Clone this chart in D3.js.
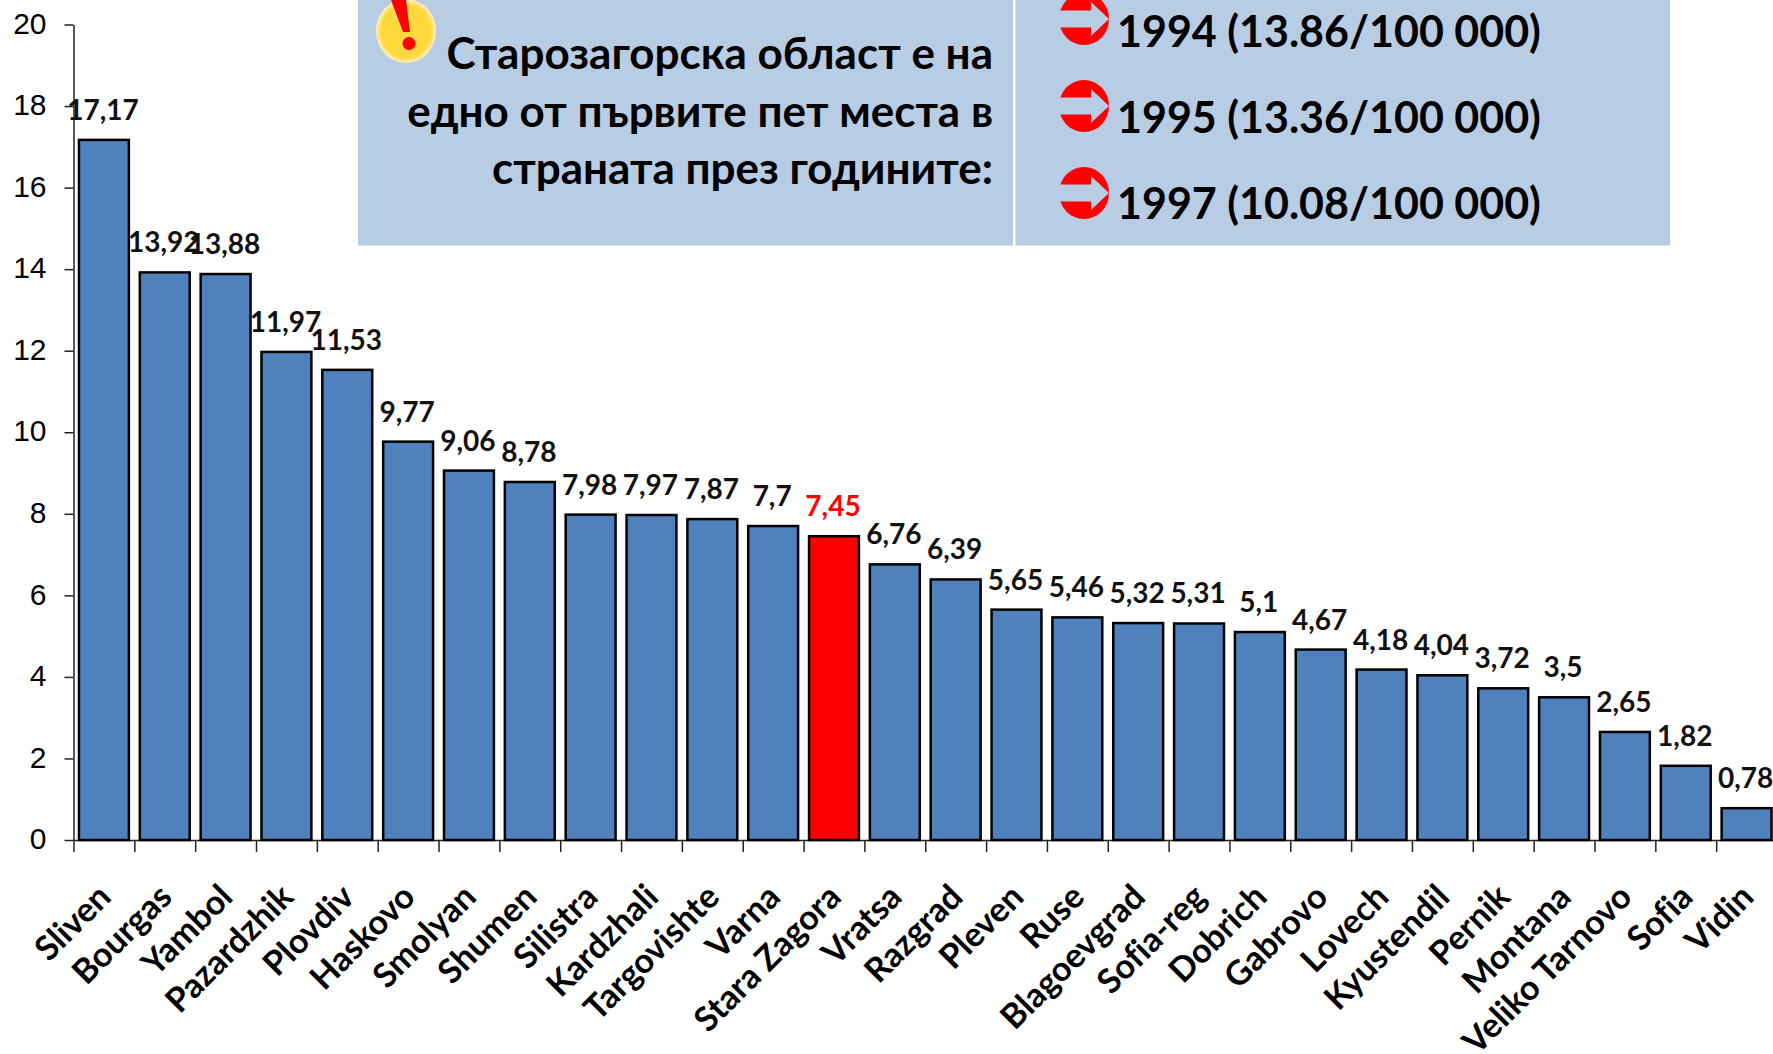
<!DOCTYPE html>
<html>
<head>
<meta charset="utf-8">
<script src="https://cdn.jsdelivr.net/npm/d3@7/dist/d3.min.js"></script>
<style>
  html, body { margin: 0; padding: 0; background: #fff; overflow: hidden; }
  svg { display: block; }
  text { font-variant-ligatures: none; }
  .domain, .tick line { stroke: #222; stroke-width: 1.5; }
  .ytick text { font-family: "Liberation Sans", Arial, sans-serif; font-size: 30px; fill: #000; }
  .lbl { font-family: Lato, "Open Sans", sans-serif; font-size: 28px; font-weight: 700; fill: #111; text-anchor: middle; }
  .cat { font-family: Lato, "Open Sans", sans-serif; font-size: 34px; font-weight: 700; fill: #000; text-anchor: end; }
  .note { font-family: Lato, "Noto Sans", sans-serif; font-size: 44px; font-weight: 700; fill: #000; }
  .year { font-family: Lato, "Noto Sans", sans-serif; font-size: 43px; font-weight: 700; fill: #000; }
</style>
</head>
<body>
<script>
"use strict";

const categories = ["Sliven", "Bourgas", "Yambol", "Pazardzhik", "Plovdiv", "Haskovo", "Smolyan", "Shumen",
    "Silistra", "Kardzhali", "Targovishte", "Varna", "Stara Zagora", "Vratsa", "Razgrad", "Pleven", "Ruse",
    "Blagoevgrad", "Sofia-reg", "Dobrich", "Gabrovo", "Lovech", "Kyustendil", "Pernik", "Montana",
    "Veliko Tarnovo", "Sofia", "Vidin"];
const values = [17.17, 13.92, 13.88, 11.97, 11.53, 9.77, 9.06, 8.78, 7.98, 7.97, 7.87, 7.7, 7.45, 6.76, 6.39,
    5.65, 5.46, 5.32, 5.31, 5.1, 4.67, 4.18, 4.04, 3.72, 3.5, 2.65, 1.82, 0.78];
const highlight = "Stara Zagora";
const yTicks = [0, 2, 4, 6, 8, 10, 12, 14, 16, 18, 20];
const noteLines = ["Старозагорска област е на", "едно от първите пет места в", "страната през годините:"];
const yearLines = ["1994 (13.86/100 000)", "1995 (13.36/100 000)", "1997 (10.08/100 000)"];

const width = 1773, height = 1054;
const x0 = 73.5, x1 = 1777, yTop = 24.5, yBase = 840;
const panelColor = "#b8cce4";

const svg = d3.select("body").append("svg")
    .attr("width", width)
    .attr("height", height);

const x = d3.scaleBand().domain(categories).range([x0, x1]).paddingInner(0.18).paddingOuter(0.09);
const y = d3.scaleLinear().domain([0, 20]).range([yBase, yTop]);
const xEdges = d3.scaleLinear().domain([0, categories.length]).range([x0, x1]);

// note panel
svg.append("rect").attr("x", 358).attr("y", 0).attr("width", 1312).attr("height", 245.5).attr("fill", panelColor);
svg.append("rect").attr("x", 1013).attr("y", 0).attr("width", 2.5).attr("height", 245.5).attr("fill", "#fff");

// axes
svg.append("g")
    .attr("class", "ytick")
    .attr("transform", "translate(" + x0 + ",0)")
    .call(d3.axisLeft(y).tickValues(yTicks).tickSize(9).tickSizeOuter(0).tickPadding(18))
    .selectAll("text").attr("dy", "0.29em");

svg.append("g")
    .attr("transform", "translate(0," + yBase + ")")
    .call(d3.axisBottom(xEdges).tickValues(d3.range(categories.length)).tickSize(12).tickSizeOuter(0).tickFormat(""));

// bars
svg.selectAll("rect.bar")
    .data(categories)
    .enter().append("rect")
    .attr("class", "bar")
    .attr("x", d => x(d))
    .attr("width", x.bandwidth())
    .attr("y", (d, i) => y(values[i]))
    .attr("height", (d, i) => yBase - y(values[i]))
    .attr("fill", d => d === highlight ? "#ff0000" : "#4f81bd")
    .attr("stroke", "#000")
    .attr("stroke-width", 2.5);

// value labels
svg.selectAll("text.lbl")
    .data(categories)
    .enter().append("text")
    .attr("class", "lbl")
    .attr("x", d => x(d) + x.bandwidth() / 2 - 1)
    .attr("y", (d, i) => y(values[i]) - 20)
    .style("fill", d => d === highlight ? "#ff0000" : null)
    .text((d, i) => String(values[i]).replace(".", ","));

// category labels
svg.selectAll("text.cat")
    .data(categories)
    .enter().append("text")
    .attr("class", "cat")
    .attr("transform", d => "translate(" + (x(d) + x.bandwidth() / 2 + 9) + ",899) rotate(-45)")
    .text(d => d);

// note text
svg.selectAll("text.left")
    .data(noteLines)
    .enter().append("text")
    .attr("class", "note")
    .attr("text-anchor", "end")
    .attr("x", 993)
    .attr("y", (d, i) => 69 + i * 57.5)
    .text(d => d);

svg.selectAll("text.right")
    .data(yearLines)
    .enter().append("text")
    .attr("class", "year")
    .attr("x", 1117)
    .attr("y", (d, i) => 47 + i * 86)
    .text(d => d);

// red arrow bullets, the arrow is cut out in the panel colour
const arrowCy = [19, 106, 193];
const defs = svg.append("defs");
const arrow = svg.selectAll("g.arrow")
    .data(arrowCy)
    .enter().append("g")
    .attr("class", "arrow")
    .attr("transform", d => "translate(1084," + d + ")");
arrow.append("ellipse").attr("rx", 25).attr("ry", 26).attr("fill", "#ff0000");
arrow.append("path")
    .attr("d", "M-26,-8.5 H7 V-17 L25,0 L7,17 V8.5 H-26 Z")
    .attr("fill", panelColor);

// exclamation icon
const grad = defs.append("radialGradient").attr("id", "warn");
grad.append("stop").attr("offset", "82%").attr("stop-color", "#ffd83c");
grad.append("stop").attr("offset", "100%").attr("stop-color", "#fdf3c0");
svg.append("ellipse").attr("cx", 406).attr("cy", 31).attr("rx", 30).attr("ry", 32).attr("fill", "url(#warn)");
svg.append("path").attr("d", "M391,0 H406 L410,32 H403 Z").attr("fill", "#ff0000");
svg.append("circle").attr("cx", 409).attr("cy", 43.5).attr("r", 6.5).attr("fill", "#ff0000");
</script>
</body>
</html>
